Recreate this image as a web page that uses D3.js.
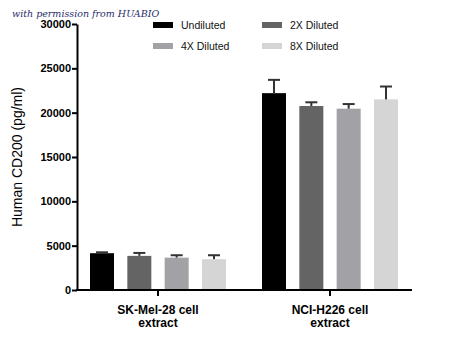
<!DOCTYPE html>
<html>
<head>
<meta charset="utf-8">
<script src="https://cdn.jsdelivr.net/npm/d3@7"></script>
<style>
  body { margin: 0; background: #fff; }
  text { font-family: "Liberation Sans", Arial, sans-serif; }
</style>
</head>
<body>
<div id="chart"></div>
<script>
// Données
const groups = ["SK-Mel-28 cell|extract", "NCI-H226 cell|extract"];
const series = ["Undiluted", "2X Diluted", "4X Diluted", "8X Diluted"];
const colors = ["#000000", "#646464", "#a2a2a6", "#d5d5d5"];
const meanSK = [4150, 3850, 3650, 3480];
const errSK = [100, 330, 270, 440];
const meanNCI = [22200, 20750, 20450, 21500];
const errNCI = [1500, 420, 520, 1450];
const yTicks = [0, 5000, 10000, 15000, 20000, 25000, 30000];

const means = [meanSK, meanNCI];
const errs = [errSK, errNCI];

const width = 450;
const height = 351;
const x0 = 77, x1 = 412, yTop = 24, yBottom = 290;

const svg = d3.select("#chart")
    .append("svg")
    .attr("width", width)
    .attr("height", height);

// Echelles
const scaleY = d3.scaleLinear()
    .domain([0, 30000])
    .range([yBottom, yTop]);

const scaleG = d3.scalePoint()
    .domain(groups)
    .range([158, 330]);

const scaleS = d3.scaleBand()
    .domain(series)
    .range([-68, 68])
    .paddingInner(0.357);

// Barres
const tidyData = [];
groups.forEach((g, gi) => {
    series.forEach((s, si) => {
        tidyData.push({ group: g, serie: s, col: colors[si], value: means[gi][si], err: errs[gi][si] });
    });
});

const bars = svg.append("g");

bars.selectAll("rect")
    .data(tidyData)
    .join("rect")
    .attr("x", d => scaleG(d.group) + scaleS(d.serie))
    .attr("y", d => scaleY(d.value))
    .attr("width", scaleS.bandwidth())
    .attr("height", d => scaleY(0) - scaleY(d.value))
    .attr("fill", d => d.col);

// Barres d'erreur
const errG = svg.append("g")
    .attr("stroke", "#333")
    .attr("stroke-width", 2);

const cx = d => scaleG(d.group) + scaleS(d.serie) + scaleS.bandwidth() / 2;

errG.selectAll(".vline")
    .data(tidyData)
    .join("line")
    .attr("x1", cx)
    .attr("x2", cx)
    .attr("y1", d => scaleY(d.value))
    .attr("y2", d => scaleY(d.value + d.err));

errG.selectAll(".cap")
    .data(tidyData)
    .join("line")
    .attr("x1", d => cx(d) - 6)
    .attr("x2", d => cx(d) + 6)
    .attr("y1", d => scaleY(d.value + d.err))
    .attr("y2", d => scaleY(d.value + d.err));

// Axes
svg.append("g")
    .attr("transform", `translate(${x0}, 0)`)
    .call(d3.axisLeft(scaleY).tickValues(yTicks).tickFormat(d3.format("d")).tickSize(5).tickSizeOuter(0))
    .call(g => g.select(".domain").attr("stroke-width", 2).attr("stroke", "#000"))
    .call(g => g.selectAll(".tick line").attr("stroke-width", 2))
    .call(g => g.selectAll(".tick text")
        .attr("font-size", "11px")
        .attr("font-weight", "bold")
        .attr("fill", "#000")
        .attr("x", -6));

svg.append("line")
    .attr("x1", x0 - 1)
    .attr("x2", x1)
    .attr("y1", yBottom)
    .attr("y2", yBottom)
    .attr("stroke", "#000")
    .attr("stroke-width", 2);

const xTicks = svg.append("g")
    .selectAll("g")
    .data(groups)
    .join("g")
    .attr("transform", d => `translate(${scaleG(d)}, ${yBottom})`);

xTicks.append("line")
    .attr("y2", 6)
    .attr("stroke", "#000")
    .attr("stroke-width", 2);

xTicks.append("text")
    .attr("text-anchor", "middle")
    .attr("font-size", "12px")
    .attr("font-weight", "bold")
    .selectAll("tspan")
    .data(d => d.split("|"))
    .join("tspan")
    .attr("x", 0)
    .attr("y", (d, i) => 24 + i * 12.5)
    .text(d => d);

// Titre axe Y
svg.append("text")
    .attr("transform", `translate(22, ${(yTop + yBottom) / 2}) rotate(-90)`)
    .attr("text-anchor", "middle")
    .attr("font-size", "14px")
    .text("Human CD200 (pg/ml)");

// Légende
const legend = svg.append("g")
    .selectAll(".legend")
    .data(series)
    .join("g")
    .attr("class", "legend")
    .attr("transform", (d, i) => `translate(${153 + (i % 2) * 109}, ${25 + Math.floor(i / 2) * 21})`);

legend.append("rect")
    .attr("y", -3)
    .attr("width", 20)
    .attr("height", 6)
    .attr("fill", (d, i) => colors[i]);

legend.append("text")
    .attr("x", 28)
    .attr("y", 4)
    .attr("font-size", "10.5px")
    .attr("fill", "#111")
    .text(d => d);

// Filigrane
svg.append("text")
    .attr("x", 12)
    .attr("y", 17)
    .style("font-family", "'DejaVu Serif', serif")
    .style("font-style", "italic")
    .attr("font-size", "9.5px")
    .attr("fill", "#1f2d6b")
    .text("with permission from HUABIO");
</script>
</body>
</html>
